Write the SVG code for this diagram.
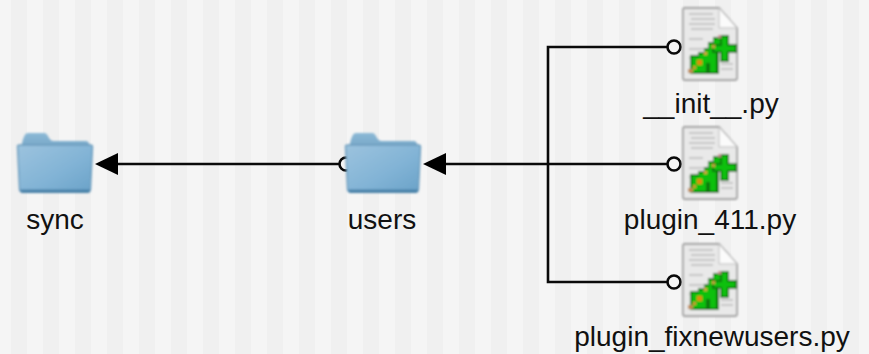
<svg xmlns="http://www.w3.org/2000/svg" width="869" height="354" viewBox="0 0 869 354">
<style>
.lbl{font-family:"Liberation Sans",Arial,sans-serif;font-size:28px;fill:#111;text-anchor:middle}
.wire{fill:none;stroke:#0a0a0a;stroke-width:2.6}
.pin{fill:#f5f5f5;stroke:#0a0a0a;stroke-width:2.6}
.head{fill:#000}
.ln{stroke:#b8b8b8;stroke-width:1.5;fill:none}
.gr{fill:#10c010}
.gd{fill:#0a760c}
</style>
<defs>
<pattern id="stripes" width="32" height="354" patternUnits="userSpaceOnUse" x="11">
<rect width="32" height="354" fill="#f5f5f5"/>
<rect width="16" height="354" fill="#f0f0f0"/>
</pattern>
<linearGradient id="fb" x1="0" y1="0" x2="1" y2="1">
<stop offset="0" stop-color="#9cc3de"/><stop offset="0.55" stop-color="#83b4d6"/><stop offset="1" stop-color="#6aa2c8"/>
</linearGradient>
<linearGradient id="ft" x1="0" y1="0" x2="0" y2="1">
<stop offset="0" stop-color="#8cb9d6"/><stop offset="1" stop-color="#6d9fc2"/>
</linearGradient>
<filter id="soft" x="-10%" y="-10%" width="120%" height="120%"><feGaussianBlur stdDeviation="0.9"/></filter>
<g id="folder" filter="url(#soft)">
<path d="M4 14Q5 5 8 1Q9 0 11 0H27Q29 0 31 4Q33 8 36 8H69Q72 9 72 13V20H4Z" fill="url(#ft)"/>
<path d="M0 13Q0 12 2 12H73Q75 12 75 14L73 56Q73 59 70 59H5Q2 59 2 56Z" fill="url(#fb)" stroke="#6c9cbd" stroke-width="1.4"/>
<path d="M3 56.500H72.500V58Q72.500 60 70 60H5Q3 60 3 58Z" fill="#4a82a9"/>
</g>
<g id="pyfile" filter="url(#soft)">
<path d="M1 0H36L54 20V70Q54 72 52 72H2Q0 72 0 70V1Z" fill="#e9e9e9" stroke="#a0a0a0" stroke-width="1.8"/>
<path d="M36 0V20H54Z" fill="#fbfbfb" stroke="#bcbcbc"/>
<path d="M6 6H30M8 11H32M6 16H32M8 21H30M6 31H20M6 41H30M6 50H14M38 56H50M38 61H50" class="ln"/>
<path d="M7 66V47H15V44H21V40H25V34H30V29H39V40H36V66Z" class="gd"/>
<path d="M9 64V49H16V46H22V42H26V36H31V31H37V39H33V64H27V55H23V64Z" class="gr"/>
<path d="M37 27H46V36H54V45H46V54H37V45H29V36H37Z" class="gd"/>
<path d="M39 29H44V38H52V43H44V52H39V43H31V38H39Z" class="gr"/>
<rect x="14" y="52" width="5" height="5" fill="#e08a10"/>
<rect x="5" y="61" width="5" height="4" fill="#c08a50"/>
<rect x="10" y="58" width="3" height="3" fill="#d09030"/>
<rect x="21" y="44" width="3" height="3" fill="#d9a040"/>
<rect x="29" y="37" width="3" height="3" fill="#c8a040"/>
<rect x="35" y="27" width="3" height="3" fill="#c88f8f"/>
</g>
</defs>
<rect width="869" height="354" fill="url(#stripes)"/>
<g id="connectors">
<path class="wire" d="M674 47H548V282H674"/>
<path class="wire" d="M674 164H440"/>
<path class="wire" d="M346 164H116"/>
<circle class="pin" cx="674" cy="47" r="6.5"/>
<circle class="pin" cx="674" cy="164" r="6.5"/>
<circle class="pin" cx="674" cy="282" r="6.5"/>
<circle class="pin" cx="346" cy="164" r="6.5"/>
<path class="head" d="M423 164L446 153V175Z"/>
<path class="head" d="M95 164L118 153V175Z"/>
</g>
<g id="node-sync"><use href="#folder" x="17.500" y="133"/><text class="lbl" x="55" y="229">sync</text></g>
<g id="node-users"><use href="#folder" x="345.500" y="133"/><text class="lbl" x="382" y="229">users</text></g>
<g id="node-init"><use href="#pyfile" x="683" y="8"/><text class="lbl" x="711" y="113">__init__.py</text></g>
<g id="node-plugin411"><use href="#pyfile" x="683" y="127"/><text class="lbl" x="710" y="229">plugin_411.py</text></g>
<g id="node-fixnewusers"><use href="#pyfile" x="683" y="244"/><text class="lbl" x="712" y="346">plugin_fixnewusers.py</text></g>
</svg>
